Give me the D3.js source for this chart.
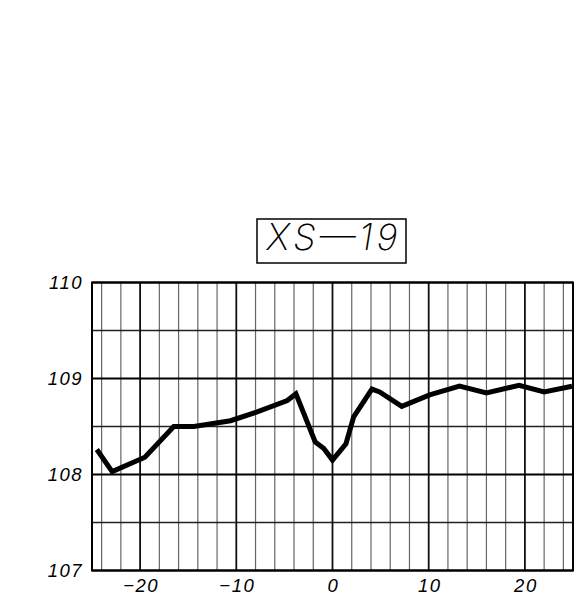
<!DOCTYPE html>
<html><head><meta charset="utf-8">
<script src="https://cdn.jsdelivr.net/npm/d3@7"></script>
<style>
html,body{margin:0;padding:0;background:#fff;}
svg{display:block;}
</style></head>
<body>
<script>
const title = "XS\u201419";
const stations = [-24.5, -22.9, -19.5, -16.5, -14.4, -10.6, -7.9, -4.7, -3.8, -1.8, -0.9, 0.0, 1.4, 2.2, 4.1, 4.9, 7.2, 10.1, 13.2, 16.0, 19.4, 22.0, 24.9];
const elevations = [108.26, 108.03, 108.18, 108.50, 108.50, 108.56, 108.65, 108.77, 108.84, 108.34, 108.27, 108.15, 108.32, 108.60, 108.89, 108.86, 108.71, 108.83, 108.92, 108.85, 108.93, 108.86, 108.92];
const xTicks = [-20, -10, 0, 10, 20];
const yTicks = [107, 108, 109, 110];
const xMinor = d3.range(-24, 25, 2);
const yMinor = [107.5, 108.5, 109.5];

const W = 574, H = 595;
const svg = d3.select("body").append("svg").attr("width", W).attr("height", H);
const x = d3.scaleLinear().domain([-25, 25]).range([92, 573]);
const y = d3.scaleLinear().domain([107, 110]).range([570.5, 282.5]);

const g = svg.append("g");
g.selectAll(".vm").data(xMinor.filter(v => v % 10 !== 0)).join("line")
  .attr("x1", d => x(d)).attr("x2", d => x(d)).attr("y1", y(107)).attr("y2", y(110))
  .attr("stroke", "#666").attr("stroke-width", 1.2);
g.selectAll(".hm").data(yMinor).join("line")
  .attr("x1", x(-25)).attr("x2", x(25)).attr("y1", d => y(d)).attr("y2", d => y(d))
  .attr("stroke", "#222").attr("stroke-width", 1.3);
g.selectAll(".vM").data(xTicks).join("line")
  .attr("x1", d => x(d)).attr("x2", d => x(d)).attr("y1", y(107)).attr("y2", y(110))
  .attr("stroke", "#111").attr("stroke-width", 1.8);
g.selectAll(".hM").data(yTicks).join("line")
  .attr("x1", x(-25)).attr("x2", x(25)).attr("y1", d => y(d)).attr("y2", d => y(d))
  .attr("stroke", "#000").attr("stroke-width", 2);
g.append("rect").attr("x", x(-25)).attr("y", y(110)).attr("width", x(25) - x(-25)).attr("height", y(107) - y(110))
  .attr("fill", "none").attr("stroke", "#000").attr("stroke-width", 2);

const labelFont = "'Liberation Sans', Arial, sans-serif";
svg.selectAll(".yl").data(yTicks).join("text")
  .attr("x", 83).attr("y", d => y(d) + 6.5)
  .attr("text-anchor", "end").attr("font-family", labelFont).attr("font-style", "italic")
  .attr("font-size", 18.5).attr("letter-spacing", 1.5).text(d => d);
svg.selectAll(".xl").data(xTicks).join("text")
  .attr("x", d => x(d) + 1).attr("y", 592)
  .attr("text-anchor", "middle").attr("font-family", labelFont).attr("font-style", "italic")
  .attr("font-size", 18.5).attr("letter-spacing", 1.5).text(d => d < 0 ? "\u2212" + Math.abs(d) : d);

const line = d3.line().x((d, i) => x(stations[i])).y(d => y(d));
svg.append("path").datum(elevations).attr("d", line)
  .attr("fill", "none").attr("stroke", "#000").attr("stroke-width", 5)
  .attr("stroke-linejoin", "miter").attr("stroke-linecap", "butt");

svg.append("rect").attr("x", 257).attr("y", 219).attr("width", 149).attr("height", 44)
  .attr("fill", "none").attr("stroke", "#000").attr("stroke-width", 1.5);
svg.append("text").attr("x", 332).attr("y", 250)
  .attr("text-anchor", "middle").attr("font-family", "Inter, 'DejaVu Sans', sans-serif")
  .attr("font-weight", 200).attr("font-style", "italic").attr("font-size", 36)
  .attr("textLength", 131).attr("lengthAdjust", "spacing")
  .text(title);
</script>
</body></html>
